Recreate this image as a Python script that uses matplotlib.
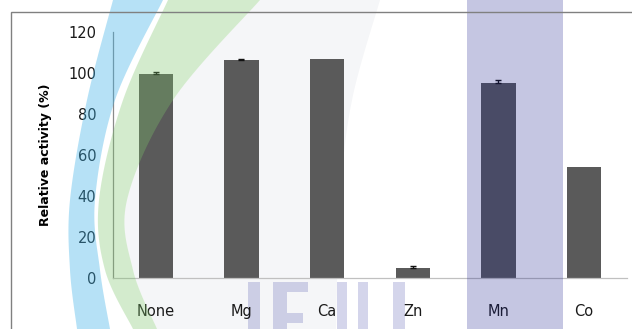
import matplotlib
matplotlib.use("Agg")
import matplotlib.pyplot as plt
import numpy as np
from matplotlib.patches import Rectangle, Polygon

plt.rcParams['font.family'] = ['DejaVu Sans']

metals = ["None", "Mg", "Ca", "Zn", "Mn", "Co"]
activity = [99.6, 106.3, 106.6, 5.1, 95.2, 54.0]
errors = [1.0, 0.6, np.nan, 0.6, 1.5, np.nan]
yticks = [0, 20, 40, 60, 80, 100, 120]

W, H = 632, 329
fig = plt.figure(figsize=(W / 100, H / 100), dpi=100)
fig.patch.set_facecolor("white")


def smooth(pts, n=20):
    """Catmull-Rom curve through the given control points."""
    p = np.array(pts, dtype=float)
    p = np.vstack([p[0], p, p[-1]])
    out = []
    for i in range(1, len(p) - 2):
        p0, p1, p2, p3 = p[i - 1], p[i], p[i + 1], p[i + 2]
        for t in np.linspace(0, 1, n, endpoint=False):
            t2, t3 = t * t, t * t * t
            out.append(0.5 * ((2 * p1) + (-p0 + p2) * t
                              + (2 * p0 - 5 * p1 + 4 * p2 - p3) * t2
                              + (-p0 + 3 * p1 - 3 * p2 + p3) * t3))
    out.append(p[-2])
    return np.array(out)


def band(axis, outer, inner, **kw):
    a = smooth(outer)
    b = smooth(inner)[::-1]
    axis.add_patch(Polygon(np.vstack([a, b]), closed=True, lw=0, **kw))


# background layer (behind the bars and labels)
bg = fig.add_axes([0, 0, 1, 1])
bg.set_xlim(0, W)
bg.set_ylim(H, 0)
bg.axis("off")
green_inner = [(260, 0), (173, 100), (127, 200), (133, 270), (157, 329)]
band(bg, green_inner, [(380, 0), (352, 100), (340, 200), (336, 329)],
     color="#5a6a88", alpha=0.06)
# lettering strokes along the bottom edge
purple = dict(color="#2a2f9c", alpha=0.2, lw=0)
for x0, x1 in [(248, 260), (273, 287), (337, 347), (358, 368), (393, 405)]:
    bg.add_patch(Rectangle((x0, 282), x1 - x0, H - 282, **purple))
bg.add_patch(Rectangle((287, 282), 21, 10, **purple))
bg.add_patch(Rectangle((287, 313), 16, 10, **purple))

# chart frame
fig.patches.append(Rectangle((11 / W, -0.05), 1.1, 1 - 12 / H + 0.05,
                             transform=fig.transFigure, fill=False,
                             edgecolor="#808080", linewidth=1.0))

ax = fig.add_axes([113 / W, 1 - 278 / H, (627 - 113) / W, (278 - 32) / H])
ax.set_facecolor("none")
x = np.arange(len(metals))
ax.bar(x, activity, width=0.4, color="#5a5a5a", zorder=2)
err = np.array(errors)
has_err = ~np.isnan(err)
ax.errorbar(x[has_err], np.array(activity)[has_err],
            yerr=[np.zeros(has_err.sum()), err[has_err]], fmt="none",
            ecolor="#111111", elinewidth=1.0, capsize=2.5, capthick=1.0, zorder=3)
ax.set_xlim(-0.5, len(metals) - 0.5)
ax.set_ylim(0, 120)
ax.set_yticks(yticks)
ax.set_yticklabels([str(v) for v in yticks])
ax.set_xticks(x)
ax.set_xticklabels(metals)
ax.tick_params(axis="both", length=0, labelsize=10.5, colors="#1a1a1a")
ax.tick_params(axis="y", pad=12)
ax.tick_params(axis="x", pad=19)
for s in ["top", "right"]:
    ax.spines[s].set_visible(False)
ax.spines["left"].set_color("#8a8a8a")
ax.spines["bottom"].set_color("#c0c0c0")
ax.spines["left"].set_linewidth(0.9)
ax.spines["bottom"].set_linewidth(0.9)
ax.set_ylabel("Relative activity (%)", fontsize=9, fontweight="bold", labelpad=12)

# colored arcs and band laid over the chart
ov = fig.add_axes([0, 0, 1, 1])
ov.set_xlim(0, W)
ov.set_ylim(H, 0)
ov.axis("off")
band(ov, [(113, 0), (87, 100), (70, 200), (70, 270), (77, 329)],
     [(163, 0), (115, 100), (95, 200), (100, 270), (110, 329)],
     color="#3fb2e8", alpha=0.38)
band(ov, [(168, 0), (123, 100), (99, 200), (105, 270), (133, 329)],
     green_inner, color="#7cc46a", alpha=0.33)
ov.add_patch(Rectangle((467, 0), 96, H, color="#1a1f8c", alpha=0.25, lw=0))

fig.savefig("out.png", dpi=100)
